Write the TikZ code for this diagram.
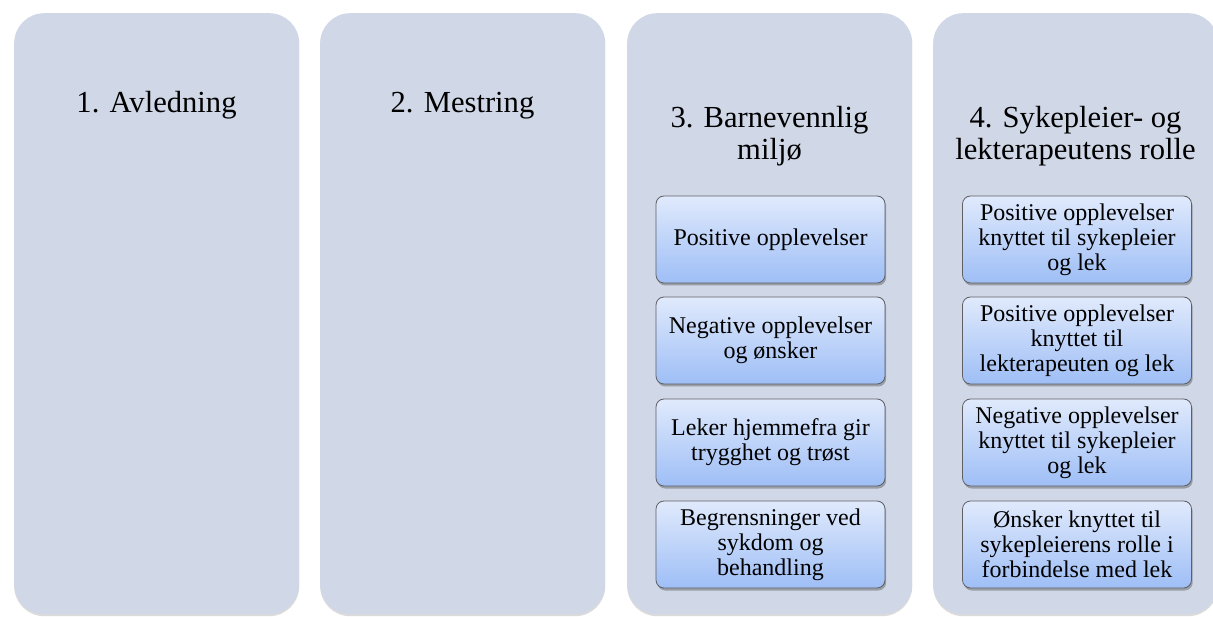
\documentclass[tikz,border=0pt]{standalone}
\usepackage{fontspec}
\setmainfont{Liberation Serif}
\usetikzlibrary{shadows}
\definecolor{panelfill}{RGB}{208,215,231}
\definecolor{boxtop}{RGB}{224,234,252}
\definecolor{boxbot}{RGB}{158,190,246}
\definecolor{boxline}{RGB}{95,95,100}
\tikzset{
  panel/.style={fill=panelfill, rounded corners=30pt, minimum width=285pt, minimum height=601pt,
    anchor=north west, inner sep=0pt,
    drop shadow={shadow xshift=0pt, shadow yshift=-2pt, opacity=0.25, fill=black!55}},
  titleone/.style={font=\fontsize{30.6}{32}\selectfont, anchor=base, inner sep=0pt},
  titletwo/.style={font=\fontsize{30.6}{32}\selectfont, anchor=north, inner sep=0pt, align=center},
  itembox/.style={rounded corners=8pt, draw=boxline, line width=0.8pt,
    top color=boxtop, bottom color=boxbot,
    minimum width=229pt, minimum height=87pt, inner sep=0pt, align=center,
    font=\fontsize{24}{25}\selectfont,
    drop shadow={shadow xshift=1.2pt, shadow yshift=-2.5pt, opacity=0.45, fill=black!65}}
}
\begin{document}
\begin{tikzpicture}[x=1pt,y=-1pt]
\useasboundingbox (0,0) rectangle (1213,617);
\clip (0,0) rectangle (1213,617);
\fill[white] (0,0) rectangle (1213,617);
% panels
\node[panel] (p1) at (14,13) {};
\node[panel] (p2) at (320,13) {};
\node[panel] (p3) at (627,13) {};
\node[panel] (p4) at (933,13) {};
% titles
\node[titleone] (t1) at (156.5,113) {1. Avledning};
\node[titleone] (t2) at (462.5,113) {2. Mestring};
\node[titletwo] (t3) at (769.5,106.5) {3. Barnevennlig\\milj\o{}};
\node[titletwo] (t4) at (1075.5,106.5) {4. Sykepleier- og\\lekterapeutens rolle};
% boxes panel 3
\node[itembox] (b31) at (770.5,239.5) {Positive opplevelser};
\node[itembox] (b32) at (770.5,340.5) {Negative opplevelser\\og \o nsker};
\node[itembox] (b33) at (770.5,442.5) {Leker hjemmefra gir\\trygghet og tr\o st};
\node[itembox] (b34) at (770.5,544.5) {Begrensninger ved\\sykdom og\\behandling};
% boxes panel 4
\node[itembox] (b41) at (1077,239.5) {Positive opplevelser\\knyttet til sykepleier\\og lek};
\node[itembox] (b42) at (1077,340.5) {Positive opplevelser\\knyttet til\\lekterapeuten og lek};
\node[itembox] (b43) at (1077,442.5) {Negative opplevelser\\knyttet til sykepleier\\og lek};
\node[itembox] (b44) at (1077,544.5) {\O nsker knyttet til\\sykepleierens rolle i\\forbindelse med lek};
\end{tikzpicture}
\end{document}
